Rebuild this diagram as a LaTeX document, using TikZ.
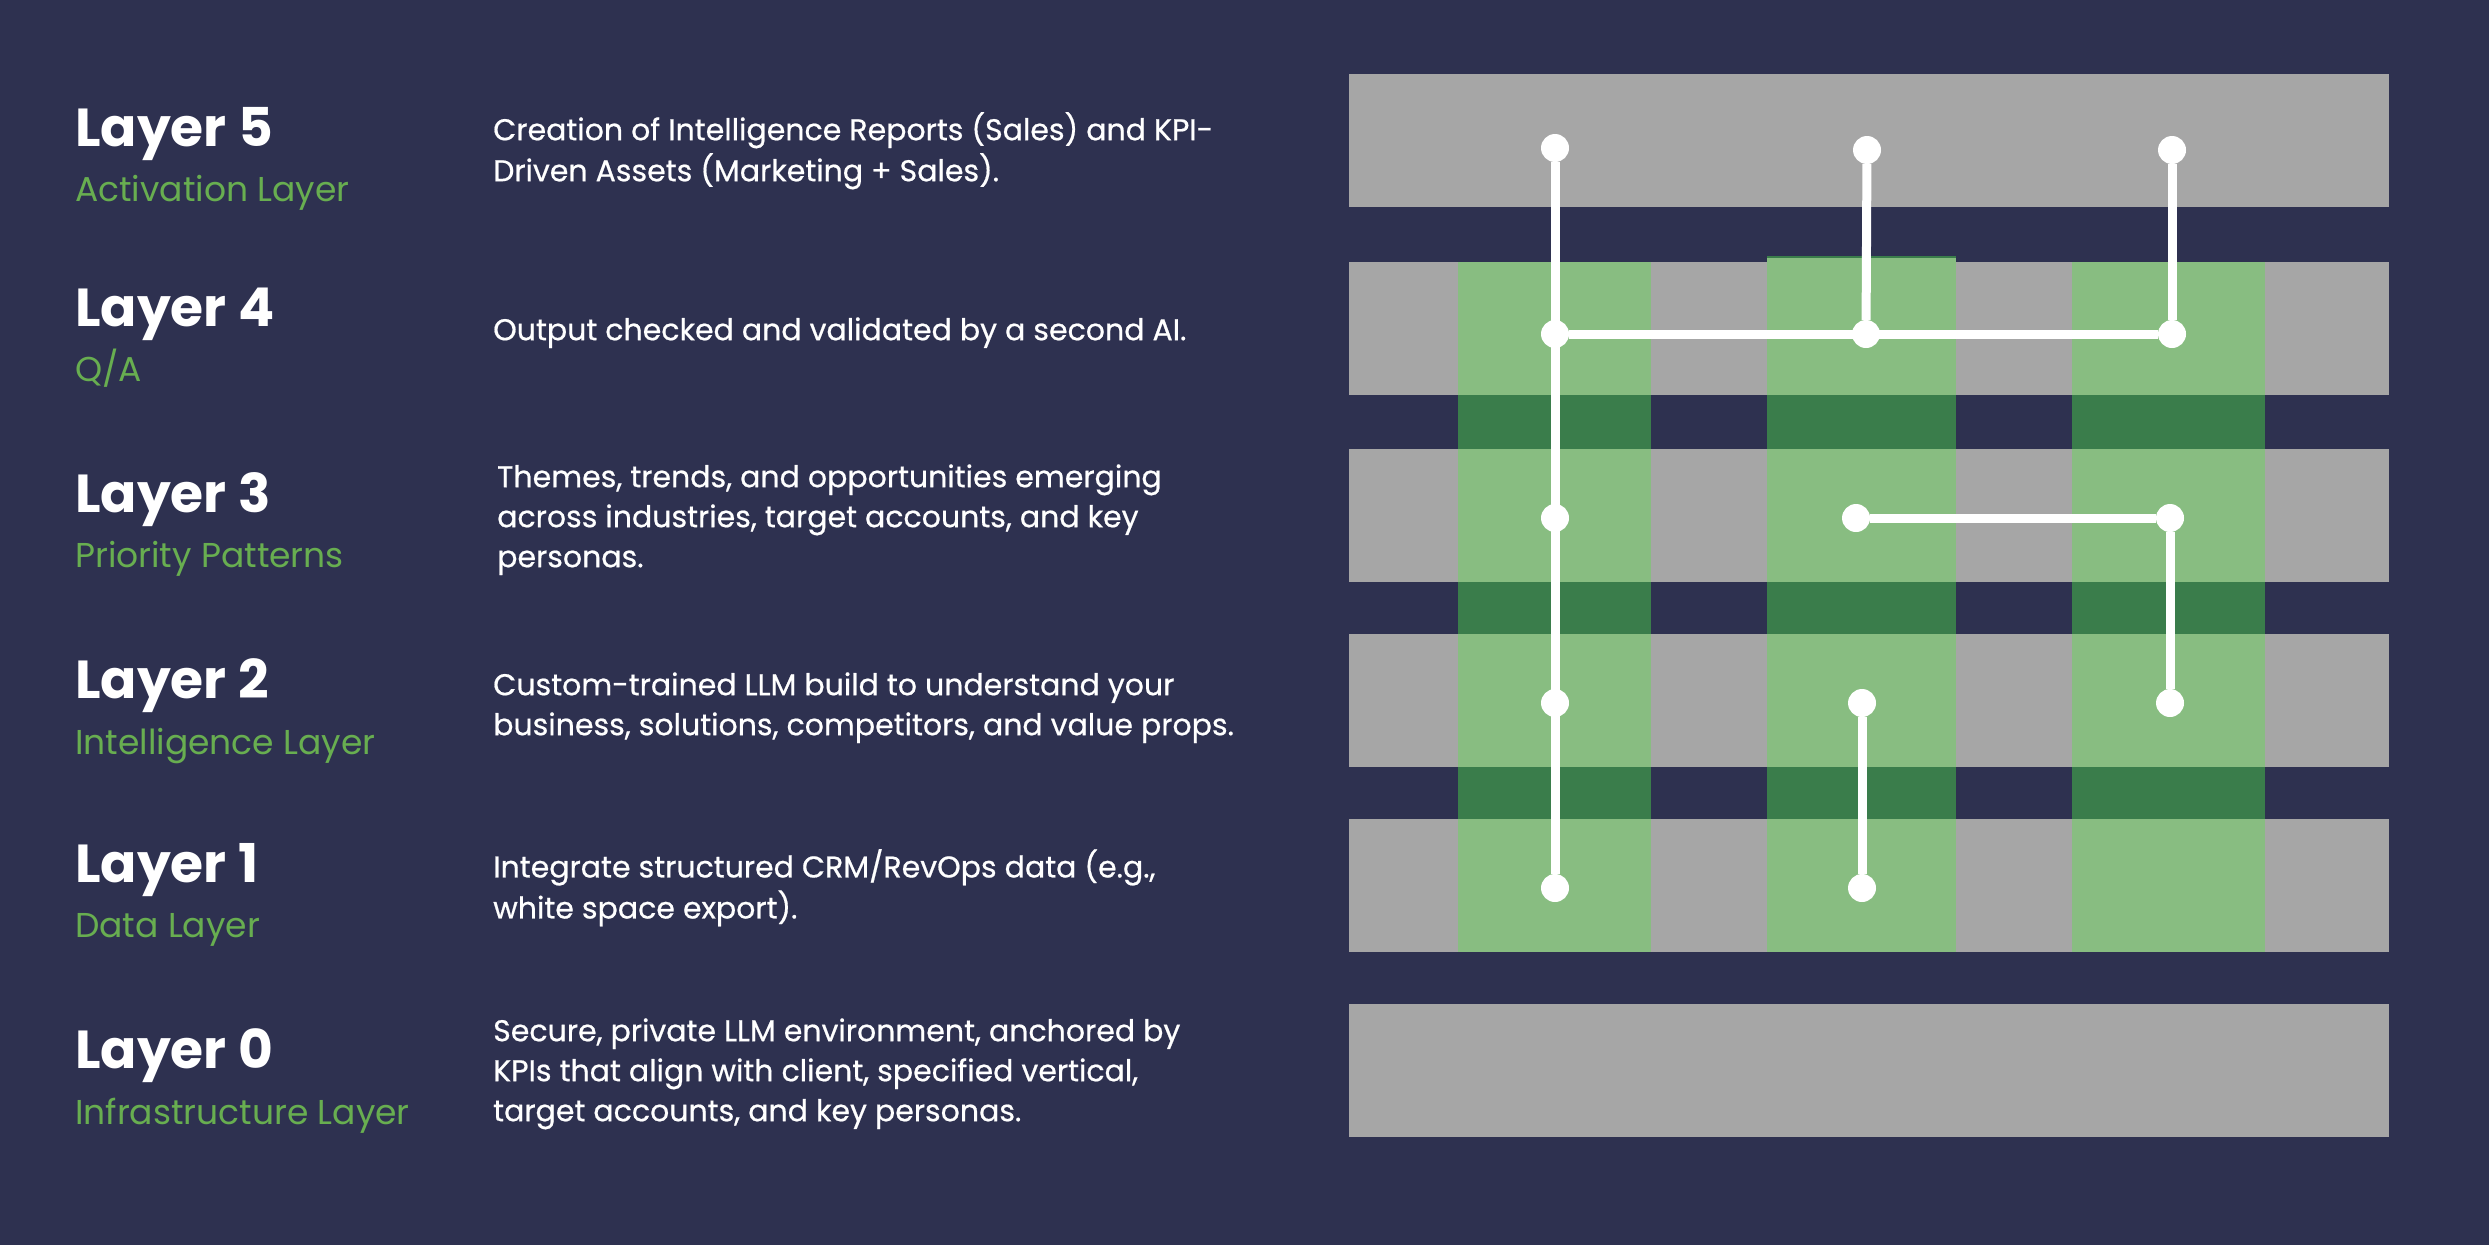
\documentclass[tikz,border=0pt]{standalone}
\usepackage{fontspec}
\setmainfont{Poppins}
\newfontfamily\descfont[FakeBold=0.6]{Poppins}
\definecolor{bgc}{HTML}{2E3150}
\definecolor{greyc}{HTML}{A6A6A6}
\definecolor{lgreen}{HTML}{88BD81}
\definecolor{dgreen}{HTML}{3A7D4B}
\definecolor{gtext}{HTML}{68AE50}
\begin{document}
\begin{tikzpicture}[x=1pt,y=-1pt,
  title/.style={anchor=base west,inner sep=0,text=white,font=\fontsize{53.5}{60}\selectfont\bfseries},
  subtitle/.style={anchor=base west,inner sep=0,text=gtext,font=\fontsize{34.5}{40}\selectfont},
  desc/.style={anchor=north west,inner sep=0,text=white,align=left,font=\descfont\fontsize{30}{40}\selectfont},
  dot/.style={circle,fill=white,inner sep=0,minimum size=28},
  wire/.style={draw=white,line width=9}]
\fill[bgc] (0,0) rectangle (2489,1245);
\useasboundingbox (0,0) rectangle (2489,1245);
% dark green columns (visible in gaps)
\fill[dgreen] (1458,262) rectangle (1651,952);
\fill[dgreen] (1767,256) rectangle (1956,952);
\fill[dgreen] (2072,262) rectangle (2265,952);
% grey bars
\foreach \t in {74,262,449,634,819,1004}{
  \fill[greyc] (1349,\t) rectangle (2389,\t+133);
}
% light green cells
\foreach \t in {262,449,634,819}{
  \fill[lgreen] (1458,\t) rectangle (1651,\t+133);
  \fill[lgreen] (1767,\t) rectangle (1956,\t+133);
  \fill[lgreen] (2072,\t) rectangle (2265,\t+133);
}
\fill[lgreen] (1767,258) rectangle (1956,262);
% dots
\node[dot] (d51) at (1555,148) {};
\node[dot] (d52) at (1867,150) {};
\node[dot] (d53) at (2172,150) {};
\node[dot] (d41) at (1555,334) {};
\node[dot] (d42) at (1866,334) {};
\node[dot] (d43) at (2172,334) {};
\node[dot] (d31) at (1555,518) {};
\node[dot] (d32) at (1856,518) {};
\node[dot] (d33) at (2170,518) {};
\node[dot] (d21) at (1555,703) {};
\node[dot] (d22) at (1862,703) {};
\node[dot] (d23) at (2170,703) {};
\node[dot] (d11) at (1555,888) {};
\node[dot] (d12) at (1862,888) {};
% wires
\draw[wire] (d51) -- (d11);
\draw[wire] (d52) -- (d42);
\draw[wire] (d53) -- (d43);
\draw[wire] (d41) -- (d43);
\draw[wire] (d32) -- (d33);
\draw[wire] (d33) -- (d23);
\draw[wire] (d22) -- (d12);
% titles
\node[title] (t5) at (75,146) {Layer 5};
\node[subtitle] (s5) at (75,201) {Activation Layer};
\node[title] (t4) at (75,326) {Layer 4};
\node[subtitle] (s4) at (75,381) {Q/A};
\node[title] (t3) at (75,512) {Layer 3};
\node[subtitle] (s3) at (75,567) {Priority Patterns};
\node[title] (t2) at (75,698) {Layer 2};
\node[subtitle] (s2) at (75,754) {Intelligence Layer};
\node[title] (t1) at (75,882) {Layer 1};
\node[subtitle] (s1) at (75,937) {Data Layer};
\node[title] (t0) at (75,1068) {Layer 0};
\node[subtitle] (s0) at (75,1124) {Infrastructure Layer};
% descriptions
\node[desc] (e5) at (493,140-28) {\strut Creation of Intelligence Reports (Sales) and KPI-\\Driven Assets (Marketing + Sales).};
\node[desc] (e4) at (493,340-28) {\strut Output checked and validated by a second AI.};
\node[desc] (e3) at (497,487-28) {\strut Themes, trends, and opportunities emerging\\across industries, target accounts, and key\\personas.};
\node[desc] (e2) at (493,695-28) {\strut Custom-trained LLM build to understand your\\business, solutions, competitors, and value props.};
\node[desc] (e1) at (493,877-28) {\strut Integrate structured CRM/RevOps data (e.g.,\\white space export).};
\node[desc] (e0) at (493,1041-28) {\strut Secure, private LLM environment, anchored by\\KPIs that align with client, specified vertical,\\target accounts, and key personas.};
\end{tikzpicture}
\end{document}
